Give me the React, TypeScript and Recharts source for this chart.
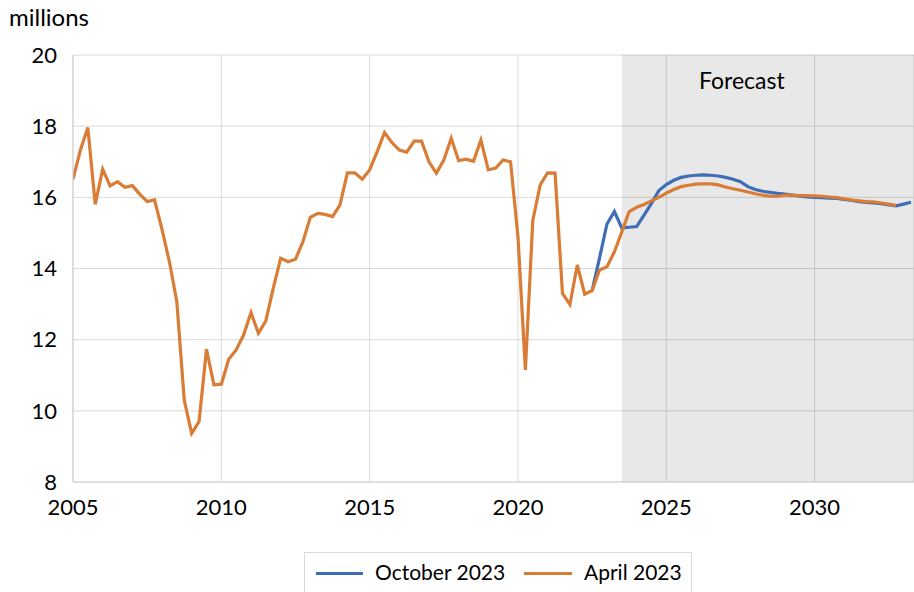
import { LineChart, Line, XAxis, YAxis, CartesianGrid, ReferenceArea } from "recharts";

// quarterly, millions
const startYear = 2005;
const history = [
  16.51, 17.33, 17.96, 15.8,
  16.79, 16.32, 16.44, 16.28,
  16.33, 16.09, 15.88, 15.93,
  15.1, 14.19, 13.07, 10.3,
  9.37, 9.7, 11.73, 10.73,
  10.75, 11.45, 11.71, 12.13,
  12.76, 12.18, 12.53, 13.44,
  14.29, 14.19, 14.26, 14.75,
  15.44, 15.55, 15.52, 15.46,
  15.79, 16.69, 16.69, 16.51,
  16.77, 17.28, 17.82, 17.54,
  17.33, 17.27, 17.58, 17.58,
  17.0, 16.68, 17.05, 17.66,
  17.03, 17.07, 17.01, 17.61,
  16.77, 16.82, 17.05, 17.0,
  14.89, 11.15, 15.36, 16.35,
  16.69, 16.68, 13.3, 12.99,
  14.1, 13.28, 13.38,
];
// from 2022Q4
const april2023 = [
  13.96, 14.05, 14.47, 15.03, 15.6, 15.72, 15.8, 15.9, 16.0,
  16.12, 16.22, 16.3, 16.34, 16.37, 16.38, 16.38, 16.35,
  16.29, 16.24, 16.2, 16.15, 16.1, 16.06, 16.03, 16.03,
  16.06, 16.06, 16.05, 16.05, 16.04, 16.03, 16.01, 15.99,
  15.96, 15.92, 15.9, 15.88, 15.87, 15.84, 15.81, 15.77,
];
const october2023 = [
  14.3, 15.25, 15.6, 15.14, 15.16, 15.18, 15.5, 15.83, 16.19,
  16.36, 16.48, 16.56, 16.6, 16.62, 16.63, 16.62, 16.6,
  16.56, 16.51, 16.44, 16.3, 16.22, 16.17, 16.14, 16.11,
  16.09, 16.06, 16.03, 16.01, 16.0, 15.99, 15.98, 15.97,
  15.94, 15.91, 15.88, 15.86, 15.84, 15.82, 15.79, 15.76,
  15.81, 15.86,
];
const xTicks = [2005, 2010, 2015, 2020, 2025, 2030];
const yTicks = [8, 10, 12, 14, 16, 18, 20];
const forecastStart = 2023.5;
const xMax = 2033.35;

const BLUE = "#3f6db6";
const ORANGE = "#d97c36";
const FONT = "Lato, 'Open Sans', sans-serif";

const n = history.length + october2023.length;
const data = Array.from({ length: n }, (_, i) => {
  const h = i < history.length;
  const k = i - history.length;
  return {
    t: startYear + i / 4,
    april: h ? history[i] : april2023[k] ?? null,
    october: i === history.length - 1 ? history[i] : h ? null : october2023[k] ?? null,
  };
});

export default function App() {
  return (
    <div style={{ position: "absolute", left: 0, top: 0, width: 914, height: 592, background: "#fff", overflow: "hidden", fontFamily: FONT }}>
      <div style={{ position: "absolute", left: 9, top: 2, fontSize: 24, color: "#000" }}>millions</div>
      <LineChart width={914} height={530} data={data} margin={{ top: 55, right: 0, bottom: 0, left: 0 }}>
        <CartesianGrid stroke="#d9d9d9" strokeWidth={1} />
        <ReferenceArea x1={forecastStart} x2={xMax} y1={8} y2={20} fill="#000" fillOpacity={0.09} stroke="none" />
        <XAxis
          dataKey="t"
          type="number"
          domain={[startYear, xMax]}
          ticks={xTicks}
          allowDataOverflow
          height={48}
          tick={{ fontSize: 22, fill: "#000", fontFamily: FONT }}
          tickLine={false}
          axisLine={{ stroke: "#d0d0d0" }}
          tickMargin={11}
        />
        <YAxis
          domain={[8, 20]}
          ticks={yTicks}
          width={73}
          tick={{ fontSize: 22, fill: "#000", fontFamily: FONT }}
          tickLine={false}
          axisLine={{ stroke: "#d0d0d0" }}
          tickMargin={10}
        />
        <Line dataKey="october" stroke={BLUE} strokeWidth={3.2} dot={false} isAnimationActive={false} connectNulls={false} />
        <Line dataKey="april" stroke={ORANGE} strokeWidth={3.2} dot={false} isAnimationActive={false} connectNulls={false} />
      </LineChart>
      <div style={{ position: "absolute", left: 699, top: 66, fontSize: 23, color: "#000" }}>Forecast</div>
      <div
        style={{
          position: "absolute",
          left: 304,
          top: 552,
          width: 388,
          height: 50,
          border: "1px solid #d9d9d9",
          boxSizing: "border-box",
          fontSize: 21,
          color: "#000",
        }}
      >
        <div style={{ position: "absolute", left: 11, top: 19, width: 47, height: 3, background: BLUE }} />
        <div style={{ position: "absolute", left: 70, top: 6 }}>October 2023</div>
        <div style={{ position: "absolute", left: 219, top: 19, width: 48, height: 3, background: ORANGE }} />
        <div style={{ position: "absolute", left: 279, top: 6 }}>April 2023</div>
      </div>
    </div>
  );
}
